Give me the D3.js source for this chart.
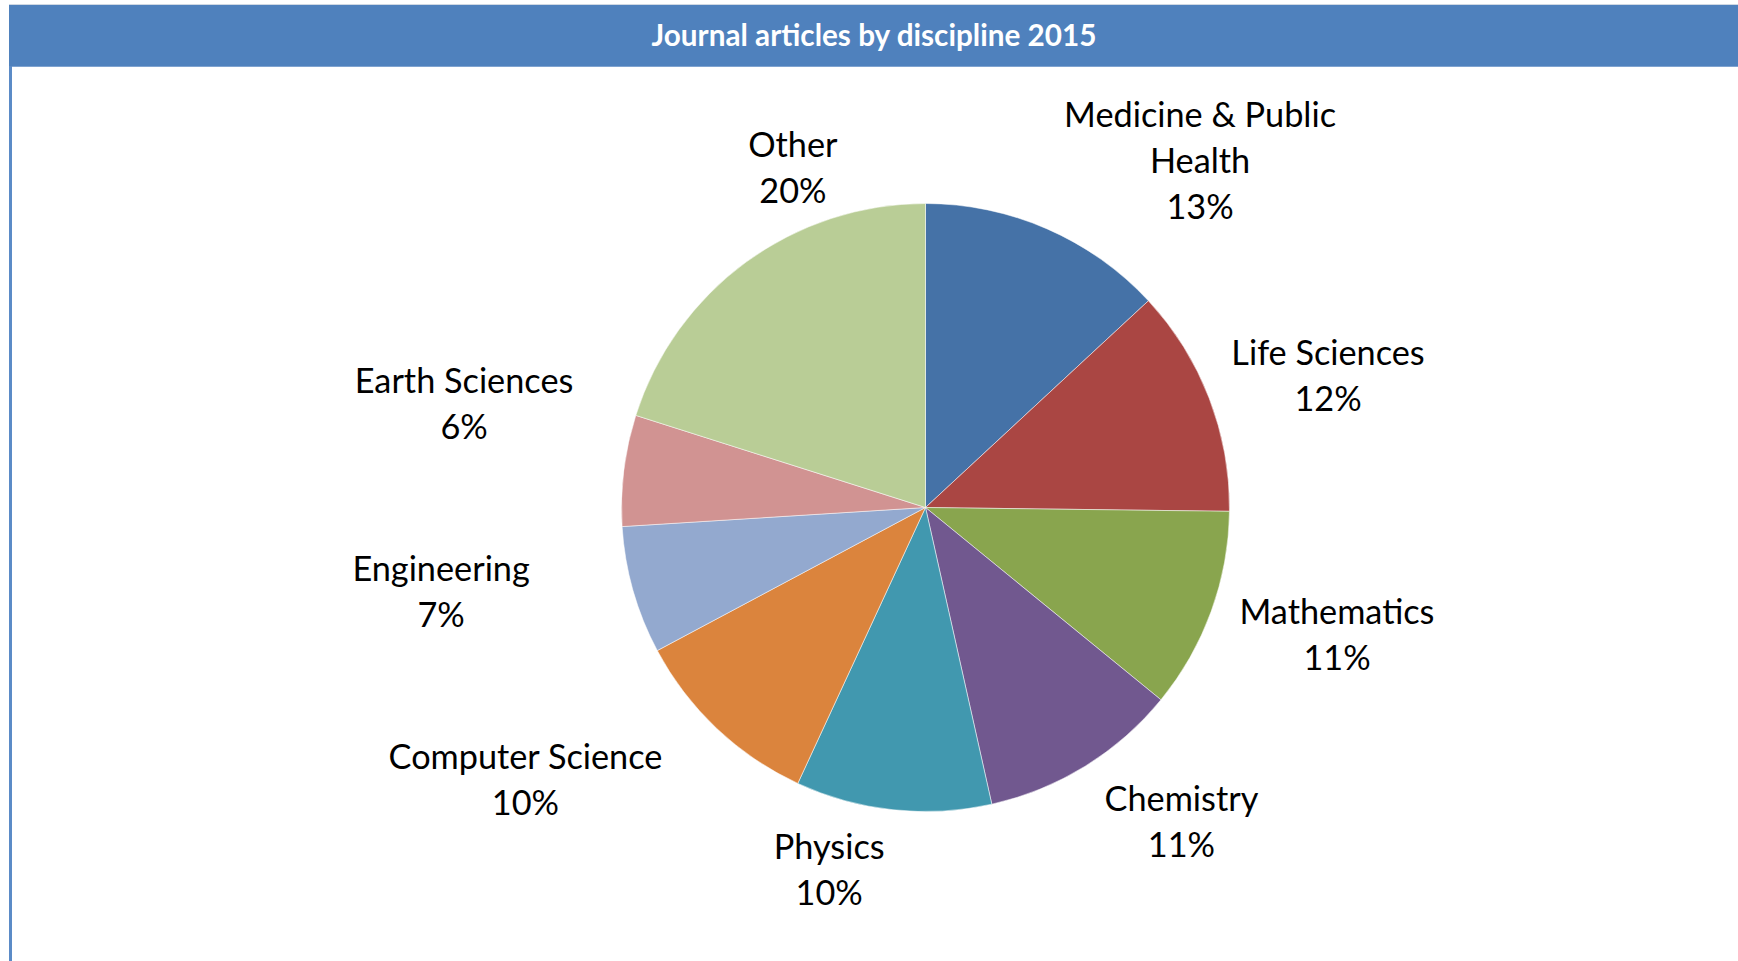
<!DOCTYPE html>
<html>
<head>
<meta charset="utf-8">
<script src="https://cdn.jsdelivr.net/npm/d3@7/dist/d3.min.js"></script>
<style>
  html, body { margin: 0; padding: 0; background: #ffffff; }
  svg { display: block; }
</style>
</head>
<body>
<svg id="chart" width="1738" height="961"></svg>
<script>
// ---- data ----
const title = "Journal articles by discipline 2015";
const categories = ["Medicine & Public Health", "Life Sciences", "Mathematics", "Chemistry",
                    "Physics", "Computer Science", "Engineering", "Earth Sciences", "Other"];
const values = [13.1, 12.1, 10.7, 10.6, 10.4, 10.3, 6.8, 5.9, 20.1];
const colors = ["#4572a7", "#aa4643", "#89a54e", "#71588f", "#4198af",
                "#db843d", "#93a9cf", "#d19392", "#b9cd96"];

// ---- layout (label placement, polar around pie centre: degrees clockwise from top, radius multiples) ----
const labelAngle = [38.4, 71.9, 107.2, 140.8, 194.9, 235.8, 260.2, 282.7, 338.7];
const labelDist  = [1.454, 1.393, 1.417, 1.332, 1.232, 1.591, 1.617, 1.556, 1.201];

const W = 1738, H = 961;
const svg = d3.select("#chart");

// frame
svg.append("rect").attr("x", 9).attr("y", 4).attr("width", W - 9).attr("height", 1).attr("fill", "#cfd8e3");
svg.append("rect").attr("x", 9).attr("y", 5).attr("width", W - 9).attr("height", 61).attr("fill", "#4f81bd");
svg.append("rect").attr("x", 9).attr("y", 66).attr("width", W - 9).attr("height", 1).attr("fill", "#7fa3d0");
svg.append("rect").attr("x", 9).attr("y", 66).attr("width", 3).attr("height", H - 66).attr("fill", "#5b8bc7");

// title
const titleText = svg.append("text")
  .attr("x", 874).attr("y", 46)
  .attr("text-anchor", "middle")
  .attr("fill", "#ffffff")
  .attr("font-family", "Lato, 'Open Sans', sans-serif")
  .attr("font-weight", "bold")
  .attr("font-size", 100)
  .text(title);
const tw = titleText.node().getComputedTextLength();
titleText.attr("font-size", 100 * 445 / tw);

// pie
const cx = 925.5, cy = 507.5, r = 304;
const g = svg.append("g").attr("transform", `translate(${cx},${cy})`);
const pie = d3.pie().sort(null).value(d => d)(values);
const arc = d3.arc().innerRadius(0).outerRadius(r);
const color = d3.scaleOrdinal().domain(categories).range(colors);
const total = d3.sum(values);
const pct = d3.format(".0%");

g.selectAll("path.slice")
  .data(pie)
  .join("path")
  .attr("class", "slice")
  .attr("d", arc)
  .attr("fill", (d, i) => color(categories[i]))
  .attr("stroke", "#ffffff")
  .attr("stroke-width", 0.5)
  .attr("stroke-linejoin", "round");

// labels
const fontFam = "Lato, 'Open Sans', sans-serif";
const probe = svg.append("text").attr("font-family", fontFam).attr("font-size", 100).text("Medicine & Public");
const fs = 100 * 272 / probe.node().getComputedTextLength();
probe.remove();
const measure = svg.append("text").attr("font-family", fontFam).attr("font-size", fs).attr("visibility", "hidden");
function wrap(str, maxW) {
  const words = str.split(" ");
  const lines = [];
  let cur = "";
  words.forEach(w => {
    const t = cur ? cur + " " + w : w;
    measure.text(t);
    if (cur && measure.node().getComputedTextLength() > maxW) { lines.push(cur); cur = w; }
    else cur = t;
  });
  if (cur) lines.push(cur);
  return lines;
}
const lineH = 46;
const capHalf = fs * 0.36;

pie.forEach((d, i) => {
  const lines = wrap(categories[i], 290);
  lines.push(pct(values[i] / total));
  const a = labelAngle[i] * Math.PI / 180;
  const lx = cx + Math.sin(a) * r * labelDist[i];
  const ly = cy - Math.cos(a) * r * labelDist[i];
  const t = svg.append("text")
    .attr("font-family", fontFam)
    .attr("font-size", fs)
    .attr("fill", "#000000")
    .attr("text-anchor", "middle");
  lines.forEach((ln, k) => {
    t.append("tspan")
      .attr("x", lx)
      .attr("y", ly - (lines.length - 1) / 2 * lineH + k * lineH + capHalf)
      .text(ln);
  });
});
measure.remove();
</script>
</body>
</html>
